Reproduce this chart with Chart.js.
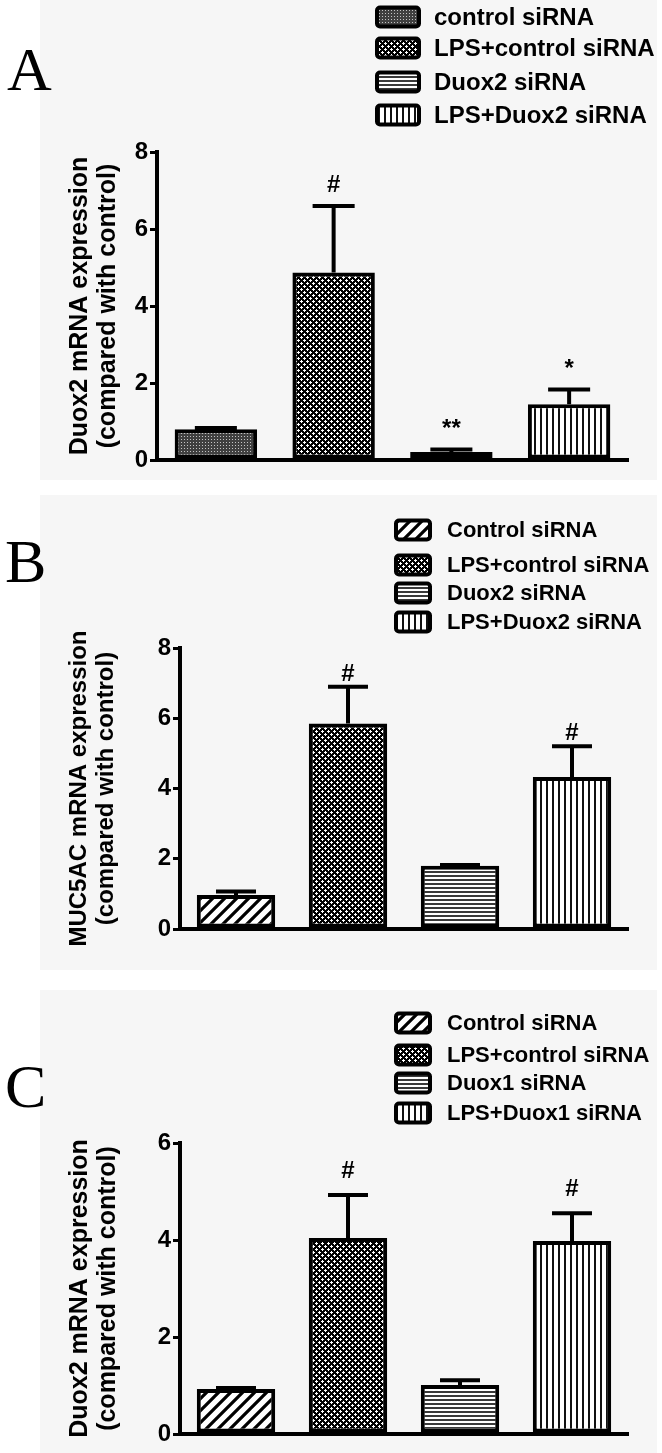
<!DOCTYPE html>
<html><head><meta charset="utf-8">
<script src="https://cdn.jsdelivr.net/npm/chart.js@4.4.1/dist/chart.umd.min.js"></script>
<style>
html,body{margin:0;padding:0;background:#fff;}
body{width:662px;height:1453px;position:relative;overflow:hidden;}
.bg{position:absolute;left:40px;width:617px;background:#f6f6f6;}
.panel{position:absolute;left:0;width:662px;}
</style></head><body>
<div class="bg" style="top:0;height:480px"></div>
<div class="bg" style="top:495px;height:475px"></div>
<div class="bg" style="top:990px;height:463px"></div>
<div class="panel" style="top:0;height:487px"><canvas id="cA"></canvas></div>
<div class="panel" style="top:487px;height:488px"><canvas id="cB"></canvas></div>
<div class="panel" style="top:975px;height:478px"><canvas id="cC"></canvas></div>
<script>
// ---------- data ----------
const categoriesA = ['control siRNA', 'LPS+control siRNA', 'Duox2 siRNA', 'LPS+Duox2 siRNA'];
const meansA = [0.80, 4.87, 0.21, 1.45];
const semA = [0.03, 1.73, 0.06, 0.38];
const marksA = ['', '#', '**', '*'];
const yTitleA = ['Duox2 mRNA expression', '(compared with control)'];
const yMaxA = 8;

const categoriesB = ['Control siRNA', 'LPS+control siRNA', 'Duox2 siRNA', 'LPS+Duox2 siRNA'];
const meansB = [0.97, 5.85, 1.80, 4.33];
const semB = [0.10, 1.05, 0.02, 0.87];
const marksB = ['', '#', '', '#'];
const yTitleB = ['MUC5AC mRNA expression', '(compared with control)'];
const yMaxB = 8;

const categoriesC = ['Control siRNA', 'LPS+control siRNA', 'Duox1 siRNA', 'LPS+Duox1 siRNA'];
const meansC = [0.93, 4.04, 1.01, 3.98];
const semC = [0.02, 0.89, 0.10, 0.57];
const marksC = ['', '#', '', '#'];
const yTitleC = ['Duox2 mRNA expression', '(compared with control)'];
const yMaxC = 6;

const yStep = 2;

// ---------- patterns ----------
function makePattern(kind) {
  const c = document.createElement('canvas');
  const g = c.getContext('2d');
  if (kind === 'fine') {
    c.width = 3; c.height = 3;
    g.fillStyle = '#404040'; g.fillRect(0, 0, 3, 3);
    g.fillStyle = '#c4c4c4'; g.fillRect(1, 1, 1, 1);
  } else if (kind === 'dots') {
    c.width = 6; c.height = 6;
    g.fillStyle = '#000'; g.fillRect(0, 0, 6, 6);
    g.fillStyle = '#fff';
    [[1, 1], [4, 4]].forEach(([cx, cy]) => {
      g.fillRect(cx, cy - 1, 1, 3);
      g.fillRect(cx - 1, cy, 3, 1);
    });
  } else if (kind === 'h') {
    c.width = 4; c.height = 4;
    g.fillStyle = '#fff'; g.fillRect(0, 0, 4, 4);
    g.fillStyle = '#3a3a3a'; g.fillRect(0, 0, 4, 2);
  } else if (kind === 'v') {
    c.width = 6; c.height = 6;
    g.fillStyle = '#fff'; g.fillRect(0, 0, 6, 6);
    g.fillStyle = '#111'; g.fillRect(0, 0, 2, 6);
  } else if (kind === 'diag') {
    c.width = 12; c.height = 12;
    g.fillStyle = '#fff'; g.fillRect(0, 0, 12, 12);
    g.strokeStyle = '#000'; g.lineWidth = 3.2;
    g.beginPath();
    g.moveTo(-3, 15); g.lineTo(15, -3);
    g.moveTo(-15, 15); g.lineTo(3, -3);
    g.moveTo(9, 15); g.lineTo(27, -3);
    g.stroke();
  }
  return g.createPattern(c, 'repeat');
}

// ---------- plugin: error bars, marks, legend, panel letter ----------
const decor = {
  id: 'decor',
  afterDatasetsDraw(chart, args, o) {
    const ctx = chart.ctx, y = chart.scales.y;
    const meta = chart.getDatasetMeta(0);
    const means = chart.data.datasets[0].data;
    meta.data.forEach((bar, i) => {
      const base = y.getPixelForValue(means[i]);
      const top = y.getPixelForValue(means[i] + o.sem[i]);
      const hw = bar.width * 0.255;
      ctx.save();
      ctx.strokeStyle = '#000'; ctx.lineWidth = 4;
      ctx.beginPath();
      ctx.moveTo(bar.x, base); ctx.lineTo(bar.x, top);
      ctx.moveTo(bar.x - hw, top); ctx.lineTo(bar.x + hw, top);
      ctx.stroke();
      if (o.marks[i]) {
        ctx.fillStyle = '#000';
        ctx.font = 'bold 24px "Liberation Sans", Arial, sans-serif';
        ctx.textAlign = 'center'; ctx.textBaseline = 'alphabetic';
        ctx.fillText(o.marks[i], bar.x, top - o.markGap);
      }
      ctx.restore();
    });
  },
  afterDraw(chart, args, o) {
    const ctx = chart.ctx;
    const bg = chart.data.datasets[0].backgroundColor;
    ctx.save();
    // panel letter
    ctx.fillStyle = '#000';
    ctx.font = '62px "Liberation Serif", "Times New Roman", serif';
    ctx.textAlign = 'left'; ctx.textBaseline = 'alphabetic';
    ctx.fillText(o.letter, o.letterX, o.letterY);
    // legend
    chart.data.labels.forEach((lab, i) => {
      const cy = o.legRows[i];
      const bx = o.legX, bw = o.legBoxW, bh = 19;
      ctx.beginPath();
      ctx.roundRect(bx, cy - bh / 2, bw, bh, 3);
      ctx.fillStyle = bg[i]; ctx.fill();
      ctx.lineWidth = 4; ctx.strokeStyle = '#000'; ctx.stroke();
      ctx.fillStyle = '#000';
      ctx.font = 'bold ' + o.legFont + 'px "Liberation Sans", Arial, sans-serif';
      ctx.textAlign = 'left'; ctx.textBaseline = 'middle';
      ctx.fillText(lab, o.legTextX, cy + 1);
    });
    ctx.restore();
  }
};

function makeChart(id, labels, means, sem, marks, yTitle, yMax, patterns, geo) {
  return new Chart(document.getElementById(id), {
    type: 'bar',
    data: {
      labels: labels,
      datasets: [{
        data: means,
        backgroundColor: patterns.map(makePattern),
        borderColor: '#000',
        borderWidth: 4,
        borderSkipped: false,
        barPercentage: 0.7,
        categoryPercentage: 1.0
      }]
    },
    options: {
      responsive: true,
      maintainAspectRatio: false,
      animation: false,
      events: [],
      layout: { padding: { top: geo.top, bottom: geo.bottom, left: 0, right: geo.right } },
      plugins: {
        legend: { display: false },
        tooltip: { enabled: false },
        decor: Object.assign({ sem: sem, marks: marks }, geo)
      },
      scales: {
        x: {
          offset: true,
          grid: { display: false },
          ticks: { display: false },
          border: { display: true, color: '#000', width: 4 },
          afterFit: s => { s.height = 0; }
        },
        y: {
          min: 0, max: yMax,
          ticks: {
            stepSize: yStep, color: '#000', padding: 2,
            font: { family: '"Liberation Sans", Arial, sans-serif', size: 24, weight: 'bold' }
          },
          grid: { drawOnChartArea: false, drawTicks: true, tickLength: 7, color: '#000', lineWidth: 3 },
          border: { display: true, color: '#000', width: 4 },
          title: {
            display: true, text: yTitle, color: '#000',
            font: { family: '"Liberation Sans", Arial, sans-serif', size: geo.titleFont, weight: 'bold', lineHeight: 1.12 },
            padding: { top: geo.titlePad, bottom: 0 }
          },
          afterFit: s => { s.width = geo.axisLeft; }
        }
      }
    },
    plugins: [decor]
  });
}

makeChart('cA', categoriesA, meansA, semA, marksA, yTitleA, yMaxA,
  ['fine', 'dots', 'h', 'v'],
  { top: 152, bottom: 27, right: 34, axisLeft: 157, titlePad: 66, titleFont: 25, markGap: 14,
    letter: 'A', letterX: 7, letterY: 90,
    legX: 377, legBoxW: 42, legTextX: 434, legRows: [17, 48, 82, 115], legFont: 24 });

makeChart('cB', categoriesB, meansB, semB, marksB, yTitleB, yMaxB,
  ['diag', 'dots', 'h', 'v'],
  { top: 161, bottom: 46, right: 34, axisLeft: 180, titlePad: 66, titleFont: 24, markGap: 6,
    letter: 'B', letterX: 5, letterY: 95,
    legX: 396, legBoxW: 34, legTextX: 447, legRows: [43, 78, 106, 135], legFont: 22 });

makeChart('cC', categoriesC, meansC, semC, marksC, yTitleC, yMaxC,
  ['diag', 'dots', 'h', 'v'],
  { top: 168, bottom: 19, right: 34, axisLeft: 180, titlePad: 66, titleFont: 25, markGap: 17,
    letter: 'C', letterX: 5, letterY: 132,
    legX: 396, legBoxW: 34, legTextX: 447, legRows: [48, 80, 108, 138], legFont: 22 });
</script>
</body></html>
